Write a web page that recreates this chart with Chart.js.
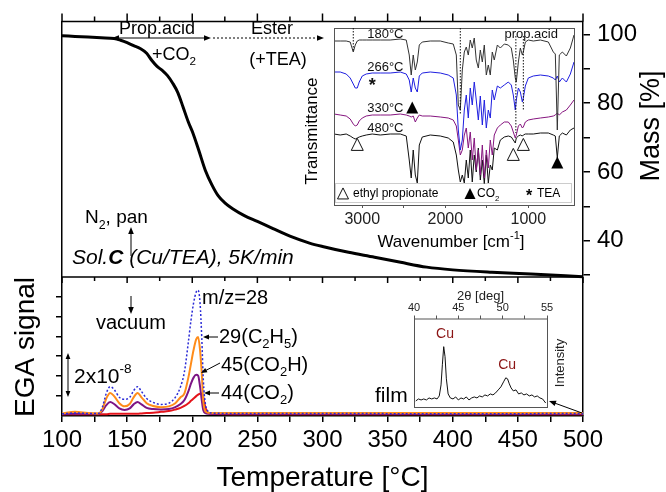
<!DOCTYPE html>
<html>
<head>
<meta charset="utf-8">
<script src="https://cdn.jsdelivr.net/npm/chart.js@4.4.1/dist/chart.umd.min.js"></script>
<style>
html, body { margin: 0; padding: 0; background: #fff; }
#wrap { position: relative; width: 666px; height: 492px; }
canvas { position: absolute; }
</style>
</head>
<body>
<div id="wrap">
  <canvas id="main" width="666" height="492" style="left:0;top:0"></canvas>
  <canvas id="ir" width="280" height="235" style="left:300px;top:20px"></canvas>
  <canvas id="xrd" width="180" height="130" style="left:400px;top:285px"></canvas>
</div>
<script>
// TG curve (mass %) vs temperature
const massTemp = [100,110,120,130,140,145,150,155,160,165,169,173,177,181,185,189,193,197,200,205,210,215,220,225,231,240,250,262,275,290,300,320,340,360,380,400,430,460,500];
const massPct = [99.6,99.4,99.2,99.0,98.8,98.3,97.6,96.7,95.9,94.5,92.4,90.7,89.5,88.0,85.8,83.0,78.8,74.5,71.8,66.3,60.5,56.3,53.0,51.0,49.3,47.3,45.6,43.5,41.3,39.3,38.3,36.6,35.2,33.7,32.3,31.5,30.8,30.3,29.5];

// EGA (mass spec) signals, units of 1e-8
const egaTemp = [100,110,120,128,131,134,137,140,144,148,152,155,158,161,165,170,176,182,187,191,194,197,199,201,203,204.5,206,207.3,208.5,210,212,215,230,300,400,500];
const ms28 = [0.03,0.05,0.04,0.04,0.2,0.55,0.72,0.65,0.45,0.4,0.45,0.62,0.72,0.6,0.42,0.32,0.27,0.3,0.45,0.72,1.1,1.85,2.4,2.84,3.12,3.17,2.84,1.97,0.89,0.3,0.1,0.05,0.04,0.04,0.03,0.04];
const ms29 = [0.04,0.08,0.05,0.04,0.15,0.42,0.56,0.48,0.3,0.22,0.28,0.45,0.56,0.45,0.3,0.23,0.2,0.22,0.3,0.45,0.55,0.95,1.3,1.65,1.92,1.98,1.65,1.06,0.35,0.1,0.06,0.05,0.05,0.05,0.05,0.05];
const ms45 = [0.02,0.03,0.03,0.03,0.1,0.25,0.33,0.28,0.17,0.13,0.17,0.27,0.33,0.27,0.18,0.15,0.14,0.15,0.2,0.28,0.38,0.6,0.8,0.95,1.02,1.0,0.72,0.38,0.12,0.05,0.03,0.03,0.03,0.03,0.03,0.03];
const ms44 = [0.02,0.02,0.02,0.02,0.02,0.02,0.03,0.03,0.03,0.03,0.03,0.03,0.03,0.04,0.05,0.06,0.08,0.1,0.14,0.18,0.23,0.3,0.36,0.42,0.48,0.52,0.54,0.54,0.45,0.2,0.06,0.03,0.02,0.02,0.02,0.02];

const tempTicks = [100,125,150,175,200,225,250,275,300,325,350,375,400,425,450,475,500];
const egaTicks = [0.5,1,1.5,2,2.5,3];
const massTicks = [30,40,50,60,70,80,90,100];
const massLabels = [40,60,80,100];

// FTIR inset: wavenumber grid and transmittance (arb. units, offset spectra)
const irWave = [3340,3265,3193,3145,3108,3084,3060,3036,3000,2952,2880,2783,2663,2542,2470,2434,2410,2386,2361,2337,2313,2277,2181,2060,1964,1904,1867,1843,1819,1795,1771,1747,1723,1699,1675,1651,1627,1602,1578,1554,1530,1506,1482,1458,1434,1410,1373,1337,1289,1241,1205,1181,1157,1145,1120,1096,1072,1060,1036,1000,940,855,759,699,675,651,627,590,542,494,450];
const ir180 = [164,164,164,163,153,160,164,165,165,165,165,165,165,166,165,150,130,150,135,143,160,163,164,164,162,161,150,100,95,135,153,158,150,165,157,167,145,137,155,143,160,130,140,130,153,145,160,157,161,160,157,145,127,123,143,157,150,153,163,165,164,165,163,153,151,75,150,153,149,157,170];
const ir266 = [133,133,131,127,121,117,117,123,129,131,132,132,132,133,131,125,113,127,117,113,129,132,133,132,130,127,110,75,55,65,95,110,87,117,100,123,105,85,109,80,105,77,95,87,115,105,119,117,120,123,120,110,95,105,117,113,103,107,119,127,129,130,129,127,125,129,123,127,123,131,143];
const ir330 = [91,90,89,86,81,79,80,84,87,89,90,90,90,91,90,89,88,89,83,87,90,89,89,88,87,85,79,65,50,55,70,77,57,73,45,67,35,55,30,60,27,55,37,65,50,70,77,80,83,83,79,73,67,70,79,81,77,78,83,85,86,87,88,89,90,92,90,93,95,100,105];
const ir480 = [71,70,71,69,67,66,67,68,69,70,71,70,71,71,69,45,27,55,30,22,60,68,70,69,67,63,50,35,23,30,22,45,27,55,23,50,33,57,25,45,21,50,22,40,35,57,55,65,68,69,68,65,62,67,69,70,69,70,71,71,71,72,72,70,69,47,69,72,70,75,77];
const irTicks = [3000,2500,2000,1500,1000];

// XRD inset of the film
const xrdAngle = [40.2,40.5,40.8,41.1,41.4,41.7,42.0,42.3,42.6,42.85,43.05,43.2,43.35,43.5,43.65,43.85,44.1,44.4,44.7,45.0,45.3,45.6,45.9,46.2,46.5,46.8,47.1,47.4,47.7,48.0,48.3,48.6,48.9,49.2,49.5,49.8,50.1,50.35,50.55,50.75,50.95,51.2,51.5,51.8,52.1,52.4,52.7,53.0,53.3,53.6,53.9,54.2,54.5,54.85];
const xrdCounts = [6,8,7,8,7,9,8,9,8,11,22,42,60,50,28,13,9,8,10,7,9,8,10,7,9,10,9,11,10,12,11,13,12,14,17,20,25,29,28,23,19,16,17,13,14,12,13,11,12,10,11,9,8,4];
const xrdTicks = [40,42.5,45,47.5,50,52.5,55];

const FONT = '"Liberation Sans", Arial, sans-serif';
Chart.defaults.font.family = FONT;
Chart.defaults.color = '#000';

function pts(xs, ys) {
    return xs.map((x, i) => ({ x: x, y: ys[i] }));
}

function arrow(ctx, x1, y1, x2, y2, head, dash) {
    const ang = Math.atan2(y2 - y1, x2 - x1);
    const c = Math.cos(ang), s = Math.sin(ang);
    ctx.beginPath();
    ctx.setLineDash(dash || []);
    ctx.moveTo(x1, y1);
    ctx.lineTo(x2 - c * head * 0.7, y2 - s * head * 0.7);
    ctx.stroke();
    ctx.setLineDash([]);
    ctx.beginPath();
    ctx.moveTo(x2, y2);
    ctx.lineTo(x2 - head * c + head * 0.4 * s, y2 - head * s - head * 0.4 * c);
    ctx.lineTo(x2 - head * c - head * 0.4 * s, y2 - head * s + head * 0.4 * c);
    ctx.closePath();
    ctx.fill();
}

// parts: [text, kind, style]; kind 0 normal, 1 subscript, -1 superscript
function rich(ctx, x, y, parts, size, align) {
    ctx.textBaseline = 'middle';
    ctx.textAlign = 'left';
    const fonts = parts.map(p => {
        const sz = p[1] ? size * 0.65 : size;
        return (p[2] || '') + ' ' + sz + 'px ' + FONT;
    });
    let w = 0;
    parts.forEach((p, i) => { ctx.font = fonts[i]; w += ctx.measureText(p[0]).width; });
    let cx = align === 'center' ? x - w / 2 : x;
    parts.forEach((p, i) => {
        ctx.font = fonts[i];
        const dy = p[1] === 1 ? size * 0.38 : p[1] === -1 ? -size * 0.38 : 0;
        ctx.fillText(p[0], cx, y + dy);
        cx += ctx.measureText(p[0]).width;
    });
}

function vtext(ctx, x, y, text, size) {
    ctx.save();
    ctx.translate(x, y);
    ctx.rotate(-Math.PI / 2);
    ctx.font = size + 'px ' + FONT;
    ctx.textAlign = 'center';
    ctx.textBaseline = 'middle';
    ctx.fillText(text, 0, 0);
    ctx.restore();
}

function tri(ctx, cx, cy, s, filled) {
    ctx.beginPath();
    ctx.moveTo(cx, cy - s * 0.55);
    ctx.lineTo(cx - s / 2, cy + s * 0.45);
    ctx.lineTo(cx + s / 2, cy + s * 0.45);
    ctx.closePath();
    if (filled) ctx.fill(); else ctx.stroke();
}

// frame, panel divider and all the text of the main figure
const mainDeco = {
    id: 'mainDeco',
    afterDraw(chart) {
        const ctx = chart.ctx, xs = chart.scales.x, a = chart.chartArea;
        const yDiv = 277;
        ctx.save();
        ctx.strokeStyle = '#000';
        ctx.fillStyle = '#000';
        ctx.lineWidth = 1.5;
        ctx.beginPath();
        ctx.moveTo(a.left, a.top); ctx.lineTo(a.right, a.top);
        ctx.moveTo(a.left, yDiv); ctx.lineTo(a.right, yDiv);
        tempTicks.forEach(t => {
            const x = xs.getPixelForValue(t);
            const major = t % 50 === 0;
            ctx.moveTo(x, a.top); ctx.lineTo(x, a.top - (major ? 8 : 5));
            ctx.moveTo(x, yDiv); ctx.lineTo(x, yDiv + (major ? 6 : 4));
        });
        ctx.stroke();

        // decomposition steps
        ctx.lineWidth = 1;
        ctx.font = '18px ' + FONT;
        ctx.textBaseline = 'middle';
        ctx.textAlign = 'left';
        ctx.fillText('Prop.acid', 119, 29);
        ctx.textAlign = 'center';
        ctx.fillText('Ester', 272, 29);
        ctx.fillText('(+TEA)', 278, 60);
        arrow(ctx, 160, 38, 112, 38, 7);
        arrow(ctx, 160, 38, 211, 38, 7);
        arrow(ctx, 213, 38, 324, 38, 7, [2, 2]);
        rich(ctx, 152, 55, [['+CO', 0], ['2', 1]], 18);
        rich(ctx, 85, 218, [['N', 0], ['2', 1], [', pan', 0]], 19);
        arrow(ctx, 131, 256, 131, 227, 7);
        rich(ctx, 72, 258, [['Sol.', 0, 'italic'], ['C', 0, 'italic bold'], [' (Cu/TEA), 5K/min', 0, 'italic']], 21);

        // EGA panel labels
        ctx.font = '20px ' + FONT;
        ctx.textAlign = 'center';
        ctx.fillText('vacuum', 131, 323);
        arrow(ctx, 131, 296, 131, 314, 7);
        ctx.textAlign = 'left';
        ctx.fillText('m/z=28', 202, 298);
        rich(ctx, 219, 337, [['29(C', 0], ['2', 1], ['H', 0], ['5', 1], [')', 0]], 20);
        arrow(ctx, 218, 337, 203, 337, 6);
        rich(ctx, 221, 365, [['45(CO', 0], ['2', 1], ['H)', 0]], 20);
        arrow(ctx, 220, 363, 201, 373, 6);
        rich(ctx, 221, 393, [['44(CO', 0], ['2', 1], [')', 0]], 20);
        arrow(ctx, 219, 393, 204, 393, 6);
        rich(ctx, 74, 377, [['2x10', 0], ['-8', -1]], 21);
        arrow(ctx, 68, 375, 68, 353, 6);
        arrow(ctx, 68, 375, 68, 397, 6);

        ctx.font = '21px ' + FONT;
        ctx.fillText('film', 375, 396);
        arrow(ctx, 582, 413, 549, 401, 7);

        vtext(ctx, 26, 347, 'EGA signal', 28);
        vtext(ctx, 652, 126, 'Mass [%]', 27);
        ctx.restore();
    }
};

const axisLine = { color: '#000', width: 1.5 };
const tickGrid = { drawOnChartArea: false, color: '#000', lineWidth: 1.5, tickLength: 6 };

new Chart(document.getElementById('main'), {
    type: 'line',
    data: {
        datasets: [
            { data: pts(egaTemp, ms28), yAxisID: 'ega', borderColor: '#2b2bd6', borderWidth: 1.5, borderDash: [2, 2] },
            { data: pts(egaTemp, ms29), yAxisID: 'ega', borderColor: '#ff8c1a', borderWidth: 2 },
            { data: pts(egaTemp, ms45), yAxisID: 'ega', borderColor: '#7d1585', borderWidth: 2 },
            { data: pts(egaTemp, ms44), yAxisID: 'ega', borderColor: '#e4141b', borderWidth: 2 },
            { data: pts(massTemp, massPct), yAxisID: 'mass', borderColor: '#000', borderWidth: 3 }
        ]
    },
    options: {
        responsive: false,
        animation: false,
        events: [],
        elements: { point: { radius: 0 }, line: { cubicInterpolationMode: 'monotone' } },
        plugins: { legend: { display: false }, tooltip: { enabled: false } },
        layout: { padding: { top: 20, left: 0, right: 0, bottom: 0 } },
        scales: {
            x: {
                type: 'linear', min: 100, max: 500,
                afterFit(s) { s.height = 76; },
                afterBuildTicks(s) { s.ticks = tempTicks.map(v => ({ value: v })); },
                ticks: { callback: v => (v % 50 === 0 ? v : ''), font: { size: 24 }, padding: 4, maxRotation: 0, autoSkip: false },
                grid: tickGrid,
                border: axisLine,
                title: { display: true, text: 'Temperature [°C]', font: { size: 28, lineHeight: 1 }, padding: { top: 0, bottom: 0 } }
            },
            ega: {
                type: 'linear', position: 'left', min: -0.025, max: 10,
                afterFit(s) { s.width = 62; },
                afterBuildTicks(s) { s.ticks = egaTicks.map(v => ({ value: v })); },
                ticks: { display: false },
                grid: tickGrid,
                border: axisLine
            },
            mass: {
                type: 'linear', position: 'right', min: -11.0, max: 103.77,
                afterFit(s) { s.width = 83; },
                afterBuildTicks(s) { s.ticks = massTicks.map(v => ({ value: v })); },
                ticks: { callback: v => (massLabels.includes(v) ? v : ''), font: { size: 24 }, padding: 7, autoSkip: false },
                grid: Object.assign({}, tickGrid, { tickLength: 7 }),
                border: axisLine
            }
        }
    },
    plugins: [mainDeco]
});

// FTIR inset
const irDeco = {
    id: 'irDeco',
    beforeDraw(chart) {
        const a = chart.chartArea, ctx = chart.ctx;
        ctx.save();
        ctx.fillStyle = '#fff';
        ctx.fillRect(a.left, a.top, a.right - a.left, a.bottom - a.top);
        ctx.restore();
    },
    afterDraw(chart) {
        const ctx = chart.ctx, a = chart.chartArea;
        const X = w => chart.scales.x.getPixelForValue(w);
        const Y = v => chart.scales.y.getPixelForValue(v);
        ctx.save();
        ctx.strokeStyle = '#555';
        ctx.lineWidth = 1;
        ctx.strokeRect(a.left + 0.5, a.top + 0.5, a.right - a.left, a.bottom - a.top);

        // assignment lines
        ctx.strokeStyle = '#111';
        ctx.setLineDash([1.5, 1.5]);
        ctx.beginPath();
        ctx.moveTo(X(3108), Y(177)); ctx.lineTo(X(3108), Y(153));
        ctx.moveTo(X(1819), Y(177)); ctx.lineTo(X(1819), Y(90));
        ctx.moveTo(X(1150), Y(169)); ctx.lineTo(X(1150), Y(72));
        ctx.moveTo(X(1060), Y(169)); ctx.lineTo(X(1060), Y(95));
        ctx.stroke();
        ctx.setLineDash([]);

        ctx.fillStyle = '#111';
        ctx.font = '13px ' + FONT;
        ctx.textAlign = 'left';
        ctx.textBaseline = 'middle';
        ctx.fillText('180°C', X(2940), Y(171));
        ctx.fillText('266°C', X(2940), Y(138));
        ctx.fillText('330°C', X(2940), Y(97));
        ctx.fillText('480°C', X(2940), Y(77));
        ctx.textAlign = 'center';
        ctx.fillText('prop.acid', X(965), Y(171));

        ctx.font = 'bold 18px ' + FONT;
        ctx.fillText('*', X(2880), Y(119));
        ctx.strokeStyle = '#111';
        ctx.fillStyle = '#000';
        tri(ctx, X(2398), Y(97), 12, true);
        tri(ctx, X(651), Y(42), 12, true);
        tri(ctx, X(3060), Y(60), 12, false);
        tri(ctx, X(1181), Y(50), 12, false);
        tri(ctx, X(1060), Y(60), 12, false);

        // legend strip
        const ly = a.bottom - 11;
        ctx.strokeStyle = '#999';
        ctx.setLineDash([1, 1]);
        ctx.strokeRect(a.left + 1.5, a.bottom - 21.5, a.right - a.left - 4, 19);
        ctx.setLineDash([]);
        ctx.strokeStyle = '#111';
        tri(ctx, a.left + 9, ly, 11, false);
        tri(ctx, a.left + 136, ly, 11, true);
        ctx.font = '12px ' + FONT;
        ctx.textAlign = 'left';
        ctx.fillText('ethyl propionate', a.left + 19, ly);
        rich(ctx, a.left + 143, ly, [['CO', 0], ['2', 1]], 12);
        ctx.font = 'bold 16px ' + FONT;
        ctx.textAlign = 'center';
        ctx.fillText('*', a.left + 195, ly + 3);
        ctx.font = '12px ' + FONT;
        ctx.textAlign = 'left';
        ctx.fillText('TEA', a.left + 203, ly);

        vtext(ctx, 12, 111, 'Transmittance', 17);
        rich(ctx, 151, 222, [['Wavenumber [cm', 0], ['-1', -1], [']', 0]], 17, 'center');
        ctx.restore();
    }
};

new Chart(document.getElementById('ir'), {
    type: 'line',
    data: {
        datasets: [
            { data: pts(irWave, ir180), borderColor: '#333', borderWidth: 1 },
            { data: pts(irWave, ir266), borderColor: '#1f1fe0', borderWidth: 1 },
            { data: pts(irWave, ir330), borderColor: '#86157f', borderWidth: 1 },
            { data: pts(irWave, ir480), borderColor: '#111', borderWidth: 1 }
        ]
    },
    options: {
        responsive: false,
        animation: false,
        events: [],
        elements: { point: { radius: 0 }, line: { tension: 0 } },
        plugins: { legend: { display: false }, tooltip: { enabled: false } },
        layout: { padding: { top: 8, left: 34, right: 6, bottom: 0 } },
        scales: {
            x: {
                type: 'linear', min: 450, max: 3340, reverse: true,
                afterFit(s) { s.height = 50; },
                afterBuildTicks(s) { s.ticks = irTicks.map(v => ({ value: v })); },
                ticks: { callback: v => (v % 1000 === 0 ? v : ''), font: { size: 16 }, color: '#222', padding: 2, maxRotation: 0, autoSkip: false },
                grid: { drawOnChartArea: false, color: '#555', tickLength: 3 },
                border: { display: false }
            },
            y: { display: false, min: 0, max: 177 }
        }
    },
    plugins: [irDeco]
});

// XRD inset
const xrdDeco = {
    id: 'xrdDeco',
    beforeDraw(chart) {
        const a = chart.chartArea, ctx = chart.ctx;
        ctx.save();
        ctx.fillStyle = '#fff';
        ctx.fillRect(a.left, a.top, a.right - a.left, a.bottom - a.top);
        ctx.restore();
    },
    afterDraw(chart) {
        const ctx = chart.ctx, a = chart.chartArea;
        const X = v => chart.scales.x.getPixelForValue(v);
        const Y = v => chart.scales.y.getPixelForValue(v);
        ctx.save();
        ctx.strokeStyle = '#555';
        ctx.lineWidth = 1;
        ctx.strokeRect(a.left + 0.5, a.top + 0.5, a.right - a.left, a.bottom - a.top);
        ctx.fillStyle = '#8b1414';
        ctx.font = '14px ' + FONT;
        ctx.textAlign = 'center';
        ctx.textBaseline = 'middle';
        ctx.fillText('Cu', X(43.5), Y(72));
        ctx.fillText('Cu', X(50.5), Y(42));
        ctx.fillStyle = '#222';
        vtext(ctx, 160, 78, 'Intensity', 13);
        ctx.restore();
    }
};

new Chart(document.getElementById('xrd'), {
    type: 'line',
    data: { datasets: [{ data: pts(xrdAngle, xrdCounts), borderColor: '#111', borderWidth: 1 }] },
    options: {
        responsive: false,
        animation: false,
        events: [],
        elements: { point: { radius: 0 }, line: { tension: 0 } },
        plugins: { legend: { display: false }, tooltip: { enabled: false } },
        layout: { padding: { top: 0, left: 14, right: 33, bottom: 8 } },
        scales: {
            x: {
                type: 'linear', position: 'top', min: 40, max: 55,
                afterFit(s) { s.height = 33.5; },
                afterBuildTicks(s) { s.ticks = xrdTicks.map(v => ({ value: v })); },
                ticks: { callback: v => (v % 5 === 0 ? v : ''), font: { size: 11 }, color: '#222', padding: 1, maxRotation: 0, autoSkip: false },
                grid: { drawOnChartArea: false, color: '#555', tickLength: 3 },
                border: { display: false },
                title: { display: true, text: '2θ [deg]', font: { size: 13, lineHeight: 1.2 }, color: '#222', padding: { top: 4, bottom: 0 } }
            },
            y: { display: false, min: 0, max: 88 }
        }
    },
    plugins: [xrdDeco]
});
</script>
</body>
</html>
